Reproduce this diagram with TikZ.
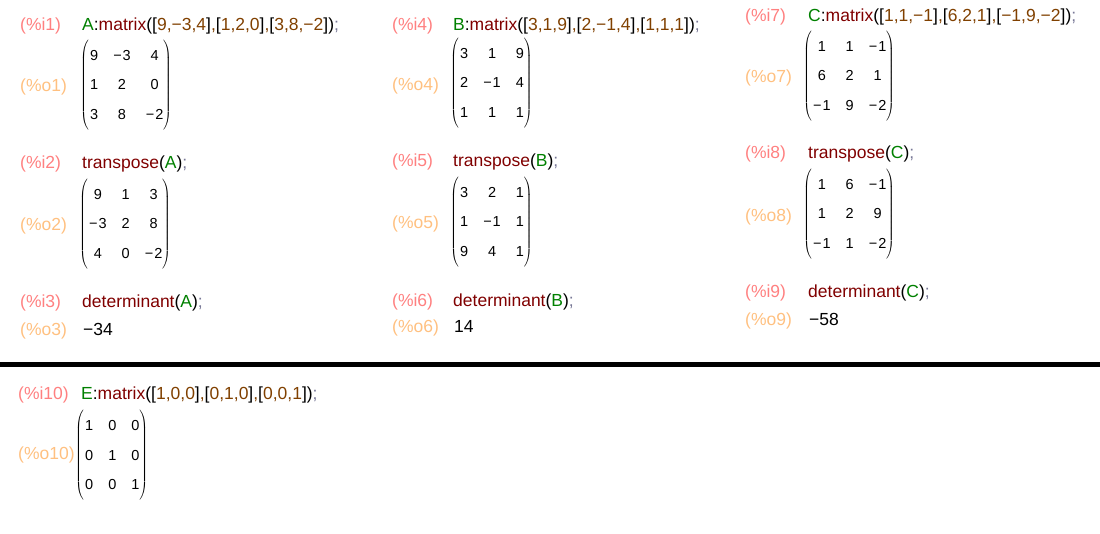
\documentclass[tikz,border=0pt]{standalone}
\usepackage{fontspec}
\setmainfont{Liberation Sans}
\usetikzlibrary{matrix}
\definecolor{inpink}{RGB}{255,128,128}
\definecolor{outpeach}{RGB}{255,192,128}
\definecolor{fnred}{RGB}{128,0,0}
\definecolor{vargreen}{RGB}{0,128,0}
\definecolor{numbrown}{RGB}{128,64,0}
\definecolor{semigray}{RGB}{120,120,150}
\newcommand\mfn[1]{\textcolor{fnred}{#1}}
\newcommand\mvar[1]{\textcolor{vargreen}{#1}}
\newcommand\mnum[1]{\textcolor{numbrown}{#1}}
\newcommand\msemi{\textcolor{semigray}{;}}
\newcommand\mneg{−\kern1pt}
\begin{document}
\begin{tikzpicture}[x=1pt,y=-1pt,
	every node/.style={inner sep=0pt},
	big/.style={anchor=west,font=\fontsize{17.5}{21}\selectfont,text height=12.8pt,text depth=3.7pt},
	inlbl/.style={big,text=inpink},
	outlbl/.style={big,text=outpeach},
	cmd/.style={big},
	res/.style={big},
	every right delimiter/.style={xshift=-1.5pt},
	mat/.style={matrix of nodes,anchor=west,inner xsep=0pt,inner ysep=10pt,
		row sep=19.5pt,column sep=15pt,left delimiter=(,right delimiter=),
		nodes={font=\fontsize{14.5}{16}\selectfont,inner sep=0pt,text height=10pt,text depth=0pt}}]
	\useasboundingbox (0,0) rectangle (1100,534);
	% matrix A
	\node[inlbl] (li1) at (20,26) {(\%i1)};
	\node[cmd] (ci1) at (82,26) {\mvar{A}:\mfn{matrix}([\mnum{9,−3,4}]\mnum{,}[\mnum{1,2,0}]\mnum{,}[\mnum{3,8,−2}])\msemi};
	\matrix[mat] (mo1) at (90,85) {9 & \mneg3 & 4\\ 1 & 2 & 0\\ 3 & 8 & \mneg2\\};
	\node[outlbl] (lo1) at (20,87) {(\%o1)};
	\node[inlbl] (li2) at (20,164) {(\%i2)};
	\node[cmd] (ci2) at (82,164) {\mfn{transpose}(\mvar{A})\msemi};
	\matrix[mat] (mo2) at (89,224) {9 & 1 & 3\\ \mneg3 & 2 & 8\\ 4 & 0 & \mneg2\\};
	\node[outlbl] (lo2) at (20,226) {(\%o2)};
	\node[inlbl] (li3) at (20,303) {(\%i3)};
	\node[cmd] (ci3) at (82,303) {\mfn{determinant}(\mvar{A})\msemi};
	\node[outlbl] (lo3) at (20,331) {(\%o3)};
	\node[res] (ro3) at (83,331) {−34};
	% matrix B
	\node[inlbl] (li4) at (392,26) {(\%i4)};
	\node[cmd] (ci4) at (453,26) {\mvar{B}:\mfn{matrix}([\mnum{3,1,9}]\mnum{,}[\mnum{2,−1,4}]\mnum{,}[\mnum{1,1,1}])\msemi};
	\matrix[mat] (mo4) at (460,83) {3 & 1 & 9\\ 2 & \mneg1 & 4\\ 1 & 1 & 1\\};
	\node[outlbl] (lo4) at (392,86) {(\%o4)};
	\node[inlbl] (li5) at (392,162) {(\%i5)};
	\node[cmd] (ci5) at (453,162) {\mfn{transpose}(\mvar{B})\msemi};
	\matrix[mat] (mo5) at (460,222) {3 & 2 & 1\\ 1 & \mneg1 & 1\\ 9 & 4 & 1\\};
	\node[outlbl] (lo5) at (392,224) {(\%o5)};
	\node[inlbl] (li6) at (392,302) {(\%i6)};
	\node[cmd] (ci6) at (453,302) {\mfn{determinant}(\mvar{B})\msemi};
	\node[outlbl] (lo6) at (392,328) {(\%o6)};
	\node[res] (ro6) at (454,328) {14};
	% matrix C
	\node[inlbl] (li7) at (745,17) {(\%i7)};
	\node[cmd] (ci7) at (808,17) {\mvar{C}:\mfn{matrix}([\mnum{1,1,−1}]\mnum{,}[\mnum{6,2,1}]\mnum{,}[\mnum{−1,9,−2}])\msemi};
	\matrix[mat] (mo7) at (813,76) {1 & 1 & \mneg1\\ 6 & 2 & 1\\ \mneg1 & 9 & \mneg2\\};
	\node[outlbl] (lo7) at (745,78) {(\%o7)};
	\node[inlbl] (li8) at (745,154) {(\%i8)};
	\node[cmd] (ci8) at (808,154) {\mfn{transpose}(\mvar{C})\msemi};
	\matrix[mat] (mo8) at (813,214) {1 & 6 & \mneg1\\ 1 & 2 & 9\\ \mneg1 & 1 & \mneg2\\};
	\node[outlbl] (lo8) at (745,217) {(\%o8)};
	\node[inlbl] (li9) at (745,293) {(\%i9)};
	\node[cmd] (ci9) at (808,293) {\mfn{determinant}(\mvar{C})\msemi};
	\node[outlbl] (lo9) at (745,321) {(\%o9)};
	\node[res] (ro9) at (809,321) {−58};
	% separator
	\draw[line width=5pt] (0,365) -- (1100,365);
	% matrix E
	\node[inlbl] (li10) at (18,395) {(\%i10)};
	\node[cmd] (ci10) at (81,395) {\mvar{E}:\mfn{matrix}([\mnum{1,0,0}]\mnum{,}[\mnum{0,1,0}]\mnum{,}[\mnum{0,0,1}])\msemi};
	\matrix[mat] (mo10) at (85,455) {1 & 0 & 0\\ 0 & 1 & 0\\ 0 & 0 & 1\\};
	\node[outlbl] (lo10) at (18,455) {(\%o10)};
\end{tikzpicture}
\end{document}
